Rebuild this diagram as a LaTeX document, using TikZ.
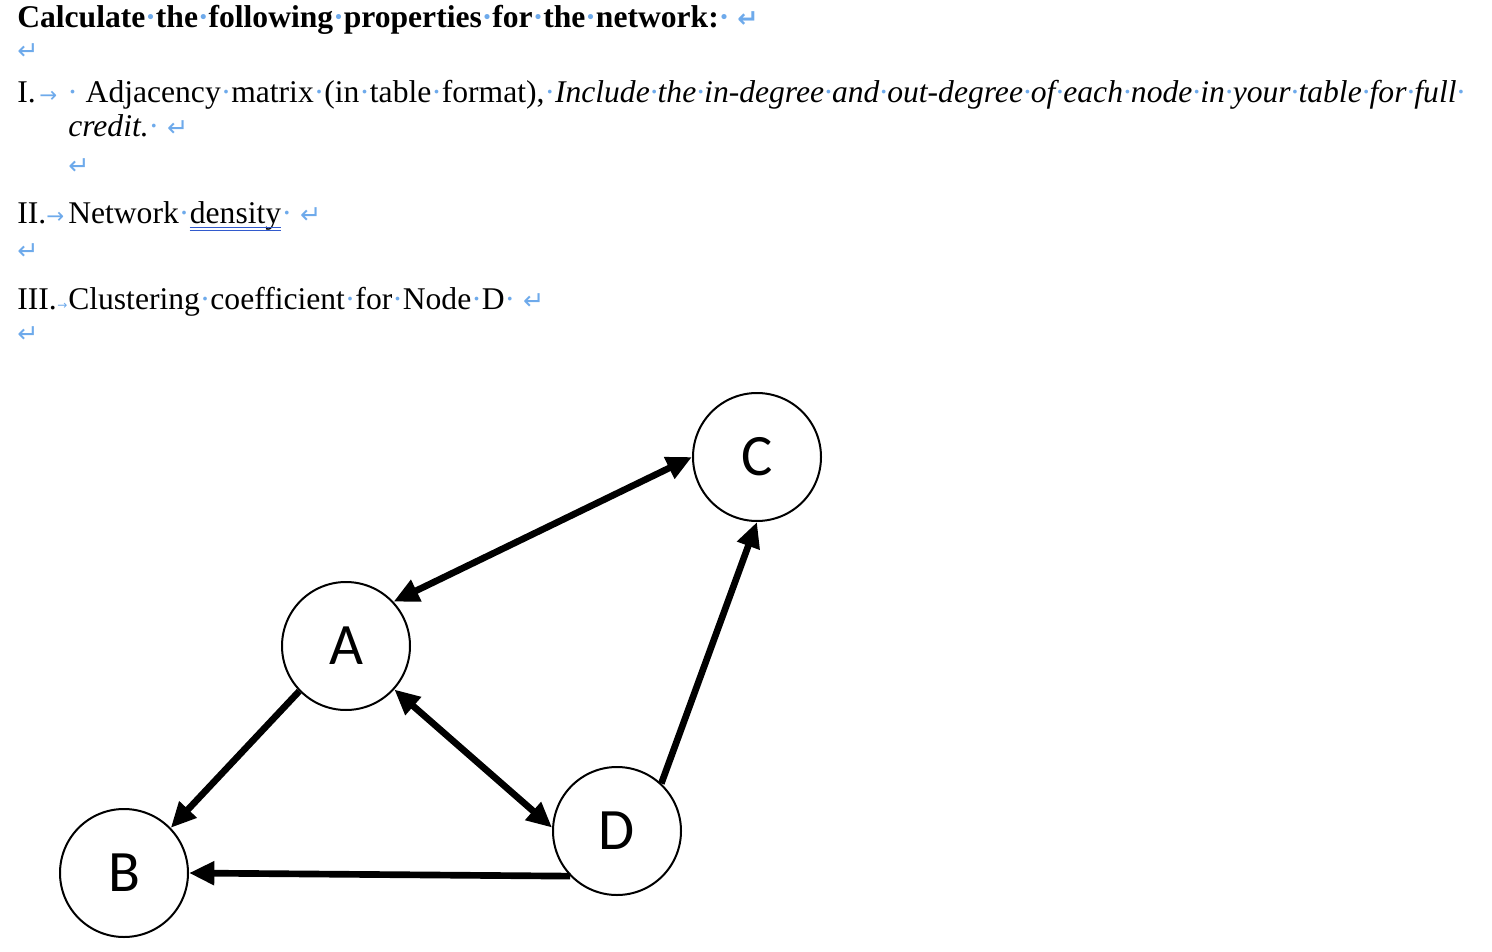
\documentclass[tikz,border=0pt]{standalone}
\usepackage{fontspec}
\setmainfont{Liberation Serif}
\newfontfamily\nodefont{Carlito}
\newfontfamily\markfont{DejaVu Sans}
\usetikzlibrary{arrows.meta}
\definecolor{markblue}{RGB}{110,170,235}
\definecolor{ulblue}{RGB}{50,90,205}
\newcommand{\dt}{{\color{markblue}·}}
\newcommand{\para}{{\color{markblue}\markfont\fontsize{19}{19}\selectfont ↵}}
\newcommand{\tabarrow}[1]{{\color{markblue}\markfont\fontsize{#1}{#1}\selectfont →}}
\tikzset{
  vert/.style={draw,circle,fill=white,line width=1.5pt,minimum size=96pt,inner sep=0pt,font=\nodefont\fontsize{44}{44}\selectfont},
  txt/.style={anchor=base west,inner sep=0pt,font=\fontsize{23.7}{28}\selectfont},
}
\begin{document}
\begin{tikzpicture}[x=0.75pt,y=-0.75pt,
    arr/.style={-{Triangle[length=19pt,width=17pt]},line width=5pt},
    biarr/.style={{Triangle[length=19pt,width=17pt]}-{Triangle[length=19pt,width=17pt]},line width=5pt},
  ]
  \useasboundingbox (0,0) rectangle (1492,952);

  % Questions
  \node[txt,font=\fontsize{23.7}{28}\selectfont\bfseries] (title) at (17,28) {Calculate\dt the\dt following\dt properties\dt for\dt the\dt network:\dt\ \para};
  \node[txt] (blank1) at (17,60) {\para};
  \node[txt] (item1) at (17,103) {I.};
  \node[txt] (tab1) at (39,103) {\tabarrow{16}};
  \node[txt] (text1) at (67,103) {\dt\ Adjacency\dt matrix\dt (in\dt table\dt format),\dt\textit{Include\dt the\dt in-degree\dt and\dt out-degree\dt of\dt each\dt node\dt in\dt your\dt table\dt for\dt full\dt}};
  \node[txt] (cont1) at (68,137) {\textit{credit.}\dt\ \para};
  \node[txt] (blank2) at (68,175) {\para};
  \node[txt] (item2) at (17,224) {II.};
  \node[txt] (tab2) at (46,224) {\tabarrow{16}};
  \node[txt] (text2) at (68,224) {Network\dt};
  \node[txt] (dens) at (text2.base east) {density};
  \node[txt] (end2) at (dens.base east) {\dt\ \para};
  \draw[ulblue,line width=1.2pt] ([yshift=-2.5pt]dens.base west) -- ([yshift=-2.5pt]dens.base east);
  \draw[ulblue,line width=1.2pt] ([yshift=-5pt]dens.base west) -- ([yshift=-5pt]dens.base east);
  \node[txt] (blank3) at (17,260) {\para};
  \node[txt] (item3) at (17,310) {III.};
  \node[txt] (tab3) at (57,310) {\tabarrow{9}};
  \node[txt] (text3) at (68,310) {Clustering\dt coefficient\dt for\dt Node\dt D\dt\ \para};
  \node[txt] (blank4) at (17,343) {\para};

  % Network
  \node[vert] (C) at (757,457) {C};
  \node[vert] (A) at (346,646) {A};
  \node[vert] (B) at (124,873) {B};
  \node[vert] (D) at (617,831) {D};
  \draw[biarr] (A.43) -- (C.west);
  \draw[arr] (A.224) -- (B.44);
  \draw[biarr] (A.318) -- (D.177);
  \draw[arr] (D.47) -- (C.south);
  \draw[arr] (D.224) -- (B.east);
\end{tikzpicture}
\end{document}
